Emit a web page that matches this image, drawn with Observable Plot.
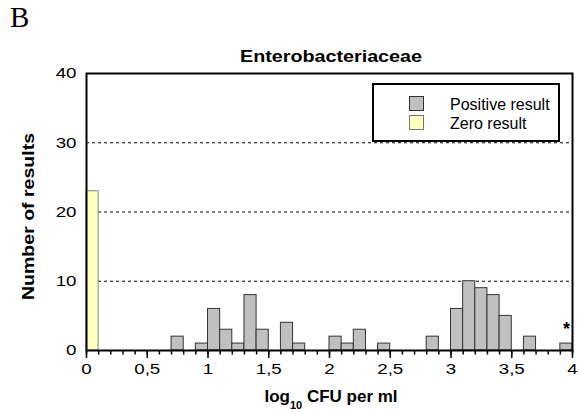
<!DOCTYPE html>
<html><head><meta charset="utf-8">
<script src="https://cdn.jsdelivr.net/npm/d3@7"></script>
<script src="https://cdn.jsdelivr.net/npm/@observablehq/plot@0.6"></script>
<style>
body{margin:0;background:#fff;}
#wrap{width:580px;height:412px;}
</style></head><body>
<div id="wrap"></div>
<script>
const binStart = [0.7,0.9,1.0,1.1,1.2,1.3,1.4,1.6,1.7,2.0,2.1,2.2,2.4,2.8,3.0,3.1,3.2,3.3,3.4,3.6,3.9];
const positiveCounts = [2,1,6,3,1,8,3,4,1,2,1,3,1,2,6,10,9,8,5,2,1];
const zeroBinStart = [0];
const zeroCounts = [23];
const binWidth = 0.1;
const yTicks = [0,10,20,30,40];
const xMajorTicks = [0,0.5,1,1.5,2,2.5,3,3.5,4];
const xMinorTicks = d3.range(0,41).map(i=>i/10);
const gridValues = [10,20,30];
const legendLabels = ["Positive result","Zero result"];
const colors = {positive:"#c0c0c0", zero:"#ffffc0"};
const titleText = "Enterobacteriaceae";
const panelLetter = "B";
const yLabel = "Number of results";
const starLabel = "*";

const FONT = "'Liberation Sans',Arial,sans-serif";
const pos = binStart.map((x,i)=>({x1:x,x2:x+binWidth,y:positiveCounts[i]}));
const zero = zeroBinStart.map((x,i)=>({x1:x,x2:x+binWidth,y:zeroCounts[i]}));
const last = pos[pos.length-1];

const chart = Plot.plot({
  width:580, height:412,
  marginLeft:86, marginRight:8, marginTop:73, marginBottom:62,
  style:{fontFamily:FONT, fontSize:"15px", background:"#fff", color:"#000"},
  x:{domain:[0,4]},
  y:{domain:[0,40]},
  marks:[
    Plot.ruleY(gridValues,{stroke:"#000",strokeDasharray:"3,3",strokeWidth:1}),
    Plot.rectY(zero,{x1:"x1",x2:"x2",y:"y",fill:colors.zero,stroke:"#888",strokeWidth:1}),
    Plot.rectY(pos,{x1:"x1",x2:"x2",y:"y",fill:colors.positive,stroke:"#333",strokeWidth:1}),
    Plot.text([last],{x:d=>(d.x1+d.x2)/2,y:"y",text:()=>starLabel,dy:-14,fontSize:18,fontWeight:"bold",fill:"#000"}),
    Plot.axisX({ticks:xMinorTicks,tickSize:4.5,tickFormat:()=>"",strokeWidth:1.5,label:null}),
    Plot.axisX({ticks:xMajorTicks,tickSize:8,tickPadding:5,strokeWidth:1.5,fontSize:15,tickFormat:d=>String(d).replace(".",","),label:null,fill:"#000"}),
    Plot.axisY({ticks:yTicks,tickSize:0,tickPadding:10,fontSize:15,label:null,fill:"#000"}),
    Plot.frame({stroke:"#000",strokeWidth:2})
  ]
});
document.getElementById("wrap").appendChild(chart);
const svg = d3.select(chart);

function fit(sel, k){ sel.each(function(){ const w=this.getComputedTextLength(); this.setAttribute("textLength", w*k); this.setAttribute("lengthAdjust","spacingAndGlyphs"); }); }
function fitTo(node, len){ node.setAttribute("textLength", len); node.setAttribute("lengthAdjust","spacingAndGlyphs"); }

fit(svg.selectAll("[aria-label='x-axis tick label'] text, [aria-label='y-axis tick label'] text"), 1.25);

const g = svg.append("g").attr("font-family", FONT).attr("fill","#000");
g.append("text").text(panelLetter).attr("x",10).attr("y",27).attr("text-anchor","start")
  .attr("font-family","'Liberation Serif','Times New Roman',serif").attr("font-size",29);
const t = g.append("text").text(titleText).attr("x",331).attr("y",62).attr("text-anchor","middle")
  .attr("font-weight","bold").attr("font-size",16);
fitTo(t.node(),182);
const yl = g.append("text").text(yLabel).attr("transform","translate(34,216.5) rotate(-90)").attr("text-anchor","middle")
  .attr("font-weight","bold").attr("font-size",17);
fitTo(yl.node(),167);
const xl = g.append("text").attr("x",331).attr("y",402).attr("text-anchor","middle").attr("font-weight","bold").attr("font-size",17);
xl.append("tspan").text("log");
xl.append("tspan").text("10").attr("font-size",11).attr("dy",7);
xl.append("tspan").text(" CFU per ml").attr("dy",-7);

const lg = svg.append("g").attr("font-family",FONT).attr("text-anchor","start");
lg.append("rect").attr("x",373).attr("y",84).attr("width",186).attr("height",57).attr("fill","#fff").attr("stroke","#000").attr("stroke-width",2);
const swatchFill = [colors.positive, colors.zero];
const swatchStroke = ["#333","#777"];
legendLabels.forEach((lab,i)=>{
  lg.append("rect").attr("x",409.5).attr("y",96.5+i*19).attr("width",14).attr("height",14).attr("fill",swatchFill[i]).attr("stroke",swatchStroke[i]);
  lg.append("text").text(lab).attr("x",450).attr("y",110+i*18.5).attr("font-size",16).attr("fill","#000").attr("text-anchor","start");
});
</script></body></html>
